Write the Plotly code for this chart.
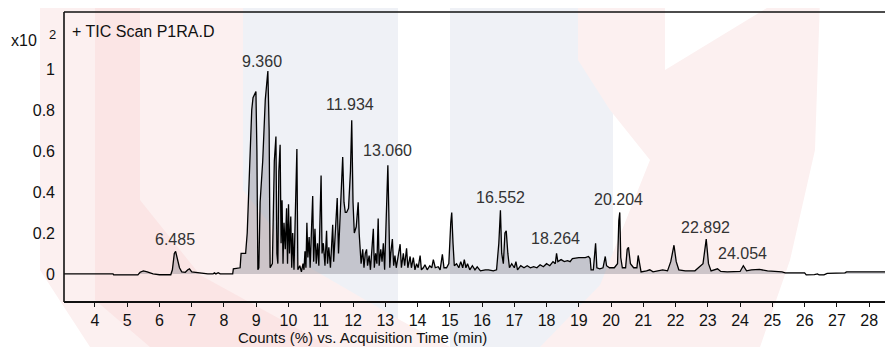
import plotly.graph_objects as go

# Retention time (min) and abundance (x10^2 counts, %)
time_min = [
    3.04, 4.56, 4.58, 5.33, 5.40, 5.50, 5.62, 5.80, 6.00, 6.35, 6.40, 6.46, 6.50, 6.55, 6.62, 6.69,
    6.80, 6.88, 6.93, 7.00, 7.20, 7.50, 7.66, 7.70, 7.75, 7.82, 7.88, 8.27,
    8.29, 8.50, 8.53, 8.67, 8.72, 8.80, 8.86, 8.90, 8.96, 8.99, 9.02, 9.05, 9.08, 9.12, 9.20, 9.28,
    9.36, 9.40, 9.43,
    9.50, 9.56, 9.61, 9.64, 9.67, 9.70, 9.74, 9.77, 9.80, 9.83, 9.86, 9.90, 9.94, 9.97, 10.00, 10.03,
    10.07, 10.10, 10.13, 10.17, 10.22, 10.26, 10.29, 10.35, 10.40, 10.45, 10.48, 10.51, 10.54, 10.57,
    10.60, 10.64, 10.67, 10.71, 10.75, 10.78, 10.82, 10.86, 10.90, 10.94, 11.01, 11.04, 11.08, 11.13,
    11.18, 11.21, 11.25, 11.30, 11.34, 11.37, 11.40, 11.45, 11.51, 11.55, 11.60, 11.68, 11.72, 11.76,
    11.80, 11.86, 11.92, 11.96, 12.00, 12.04, 12.10, 12.16, 12.19, 12.22,
    12.25, 12.30, 12.34, 12.38, 12.42, 12.45, 12.50, 12.54, 12.58, 12.63, 12.66, 12.70, 12.74, 12.78,
    12.81, 12.86, 12.90, 12.94, 12.98, 13.03, 13.08, 13.11, 13.14, 13.17, 13.22, 13.26, 13.30, 13.34,
    13.40, 13.46, 13.50, 13.56, 13.60, 13.66, 13.70, 13.77, 13.81, 13.87, 13.92, 13.97, 14.02, 14.08,
    14.12, 14.18, 14.23, 14.30, 14.38, 14.44, 14.49, 14.55, 14.64, 14.70, 14.77, 14.82, 14.90, 14.97,
    15.03, 15.06, 15.10, 15.14, 15.21, 15.28, 15.34, 15.40, 15.45, 15.50, 15.55, 15.62, 15.70, 15.78,
    15.85, 15.95, 16.10, 16.20, 16.35, 16.45, 16.52, 16.57, 16.61, 16.66, 16.71, 16.75, 16.80, 16.85,
    16.92, 17.00, 17.05, 17.10, 17.20, 17.30, 17.40, 17.50, 17.60, 17.70, 17.80, 17.90, 18.00, 18.10,
    18.20, 18.27, 18.31, 18.35, 18.45, 18.55, 18.65, 18.73, 18.80, 19.00, 19.20, 19.30, 19.35, 19.38,
    19.45, 19.49, 19.52, 19.56, 19.65, 19.75, 19.82, 19.86, 19.95, 20.10, 20.20, 20.24, 20.27, 20.30,
    20.35, 20.45, 20.50, 20.54, 20.60, 20.70, 20.80, 20.84, 20.88, 20.93, 21.10, 21.20, 21.30, 21.50,
    21.60, 21.75, 21.85, 21.95, 22.02, 22.10, 22.30, 22.60, 22.85, 22.95, 23.02, 23.10, 23.30, 23.40,
    23.60, 24.00, 24.10, 24.20, 24.35, 24.60, 24.85, 25.30, 25.40, 26.00, 26.05, 26.30, 26.40, 26.45,
    26.60, 26.70, 27.25, 27.30, 28.74,
]
abundance = [
    0.000, 0.000, -0.005, -0.005, 0.008, 0.015, 0.010, 0.000, -0.004, -0.004, 0.020, 0.100, 0.110, 0.080, 0.030, 0.010,
    0.008, 0.020, 0.025, 0.010, 0.005, 0.000, 0.000, 0.005, 0.000, 0.006, 0.000, 0.000,
    0.025, 0.030, 0.100, 0.100, 0.200, 0.550, 0.800, 0.860, 0.880, 0.890, 0.600, 0.020, 0.030, 0.350, 0.550, 0.850,
    0.990, 0.700, 0.030,
    0.050, 0.550, 0.670, 0.100, 0.050, 0.500, 0.630, 0.150, 0.360, 0.050, 0.250, 0.120, 0.320, 0.050, 0.340, 0.100,
    0.280, 0.030, 0.200, 0.020, 0.300, 0.610, 0.020, 0.040, 0.010, 0.050, 0.020, 0.110, 0.030, 0.250,
    0.080, 0.180, 0.030, 0.200, 0.380, 0.060, 0.220, 0.050, 0.150, 0.040, 0.480, 0.100, 0.150, 0.040,
    0.210, 0.050, 0.130, 0.030, 0.160, 0.240, 0.060, 0.200, 0.370, 0.100, 0.300, 0.570, 0.350, 0.300,
    0.300, 0.320, 0.500, 0.750, 0.350, 0.200, 0.230, 0.350, 0.200, 0.085,
    0.050, 0.120, 0.030, 0.100, 0.120, 0.040, 0.090, 0.020, 0.140, 0.220, 0.030, 0.100, 0.050, 0.270,
    0.040, 0.120, 0.060, 0.150, 0.020, 0.250, 0.530, 0.300, 0.030, 0.100, 0.170, 0.040, 0.090, 0.030,
    0.080, 0.145, 0.030, 0.100, 0.040, 0.125, 0.030, 0.085, 0.030, 0.080, 0.020, 0.050, 0.030, 0.090,
    0.020, 0.030, 0.045, 0.020, 0.040, 0.030, 0.070, 0.030, 0.035, 0.020, 0.095, 0.030, 0.030, 0.050,
    0.250, 0.300, 0.150, 0.040, 0.050, 0.030, 0.060, 0.030, 0.070, 0.030, 0.050, 0.020, 0.040, 0.020,
    0.035, 0.015, 0.020, 0.020, 0.015, 0.020, 0.150, 0.310, 0.100, 0.050, 0.200, 0.210, 0.100, 0.030,
    0.050, 0.030, 0.060, 0.020, 0.040, 0.030, 0.040, 0.030, 0.035, 0.030, 0.045, 0.035, 0.050, 0.040,
    0.060, 0.050, 0.100, 0.060, 0.070, 0.060, 0.065, 0.060, 0.075, 0.080, 0.080, 0.085, 0.075, 0.020,
    0.020, 0.130, 0.150, 0.030, 0.025, 0.030, 0.085, 0.040, 0.030, 0.030, 0.050, 0.260, 0.300, 0.080,
    0.030, 0.030, 0.120, 0.130, 0.050, 0.030, 0.030, 0.090, 0.060, 0.010, 0.015, 0.020, 0.010, 0.015,
    0.020, 0.015, 0.060, 0.140, 0.060, 0.020, 0.015, 0.015, 0.050, 0.170, 0.050, 0.015, 0.025, 0.012,
    0.010, 0.012, 0.040, 0.015, 0.020, 0.022, 0.015, 0.010, 0.005, 0.005, -0.005, -0.003, 0.000, -0.005,
    -0.005, 0.003, 0.005, 0.010, 0.010,
]

peak_times = [6.485, 9.360, 11.934, 13.060, 16.552, 18.264, 20.204, 22.892, 24.054]

x_ticks = list(range(4, 29))
y_ticks = [0, 0.2, 0.4, 0.6, 0.8, 1]
y_tick_text = ["0", "0.2", "0.4", "0.6", "0.8", "1"]

# ---- layout (page pixels); the page body adds an 8px margin around the figure ----
BODY = 8
PAGE_W, PAGE_H = 893, 347
PLOT_L, PLOT_R, PLOT_T, PLOT_B = 64, 893, 12, 302
FIG_W, FIG_H = PAGE_W - BODY, PAGE_H - BODY

# where each peak label sits (page pixels of the label centre)
label_centres = {6.485: (175, 239), 9.360: (262, 61), 11.934: (350, 105), 13.060: (387, 150),
                 16.552: (500, 197), 18.264: (555, 238), 20.204: (618, 199), 22.892: (705, 227),
                 24.054: (742, 253)}


def px(x, y):
    return ((x - PLOT_L) / (PLOT_R - PLOT_L), (PLOT_B - y) / (PLOT_B - PLOT_T))


def poly(points):
    pts = [px(x, y) for x, y in points]
    return "M " + " L ".join(f"{a:.4f},{b:.4f}" for a, b in pts) + " Z"


FONT = "Liberation Sans, Arial, sans-serif"

fig = go.Figure()
fig.add_trace(go.Scatter(
    x=time_min, y=abundance, mode="lines",
    line=dict(color="black", width=1.3),
    fill="tozeroy", fillcolor="rgba(110,110,120,0.33)",
    hoverinfo="skip", showlegend=False,
))

# faint watermark behind the chart
PINK = "#fcf0f0"
PINK2 = "#fbe5e5"
BLUE = "#eff1f6"
shapes = [
    dict(type="path", path=poly([(243, 0), (398, 0), (398, 347), (243, 347)]), fillcolor=BLUE),
    dict(type="path", path=poly([(450, 0), (613, 0), (613, 347), (450, 347)]), fillcolor=BLUE),
    dict(type="path", path=poly([(40, 0), (243, 0), (243, 190), (300, 262), (400, 320), (450, 347),
                                 (90, 347), (40, 270)]), fillcolor=PINK),
    dict(type="path", path=poly([(95, 0), (140, 0), (140, 200), (200, 275), (300, 330), (330, 347),
                                 (150, 347), (95, 300)]), fillcolor=PINK2),
    dict(type="path", path=poly([(578, 0), (665, 0), (665, 70), (780, 0), (820, 0), (815, 150),
                                 (790, 260), (760, 347), (540, 347), (600, 285), (650, 160), (610, 110),
                                 (578, 60)]), fillcolor=PINK),
]
for s in shapes:
    s.update(xref="paper", yref="paper", layer="below", line_width=0)

# frame lines
shapes += [
    dict(type="line", xref="paper", yref="paper", x0=0, x1=1, y0=1, y1=1,
         line=dict(color="#111", width=1.6)),
    dict(type="line", xref="paper", yref="paper", x0=0, x1=0, y0=0, y1=1,
         line=dict(color="#111", width=1.6)),
    dict(type="line", xref="paper", yref="paper", x0=0, x1=1, y0=0, y1=0,
         line=dict(color="#111", width=2.2)),
]

annotations = []
for t in peak_times:
    cx, cy = label_centres[t]
    ax, ay = px(cx, cy)
    annotations.append(dict(x=ax, y=ay, xref="paper", yref="paper", text=f"{t:.3f}", showarrow=False,
                            font=dict(family=FONT, size=16, color="#333"),
                            xanchor="center", yanchor="middle"))

annotations += [
    dict(x=px(70, 0)[0], y=px(0, 31)[1], xref="paper", yref="paper", text="+ TIC Scan P1RA.D",
         showarrow=False, xanchor="left", yanchor="middle",
         font=dict(family=FONT, size=16, color="#111")),
    dict(x=px(9, 0)[0], y=px(0, 41)[1], xref="paper", yref="paper", text="x10",
         showarrow=False, xanchor="left", yanchor="middle",
         font=dict(family=FONT, size=16, color="#111")),
    dict(x=px(47, 0)[0], y=px(0, 34)[1], xref="paper", yref="paper", text="<b></b>2",
         showarrow=False, xanchor="left", yanchor="middle",
         font=dict(family=FONT, size=13, color="#111")),
    dict(x=px(362, 0)[0], y=px(0, 337)[1], xref="paper", yref="paper",
         text="Counts (%) vs. Acquisition Time (min)",
         showarrow=False, xanchor="center", yanchor="middle",
         font=dict(family=FONT, size=15, color="#111")),
]

fig.update_layout(
    width=FIG_W, height=FIG_H,
    margin=dict(l=PLOT_L - BODY, r=PAGE_W - PLOT_R, t=PLOT_T - BODY, b=PAGE_H - PLOT_B, pad=0),
    paper_bgcolor="white", plot_bgcolor="rgba(0,0,0,0)",
    shapes=shapes, annotations=annotations,
    xaxis=dict(range=[3.04, 28.74], tickmode="array", tickvals=x_ticks,
               ticktext=[str(v) for v in x_ticks], ticks="outside", ticklen=4, tickwidth=1.2,
               tickcolor="#111", showgrid=False, zeroline=False, showline=False,
               tickfont=dict(family=FONT, size=16, color="#111")),
    yaxis=dict(range=[-0.137, 1.278], tickmode="array", tickvals=y_ticks, ticktext=y_tick_text,
               ticks="", showgrid=False, zeroline=False, showline=False, ticklabelstandoff=8,
               tickfont=dict(family=FONT, size=16, color="#111")),
)

fig.write_html("out.html")
